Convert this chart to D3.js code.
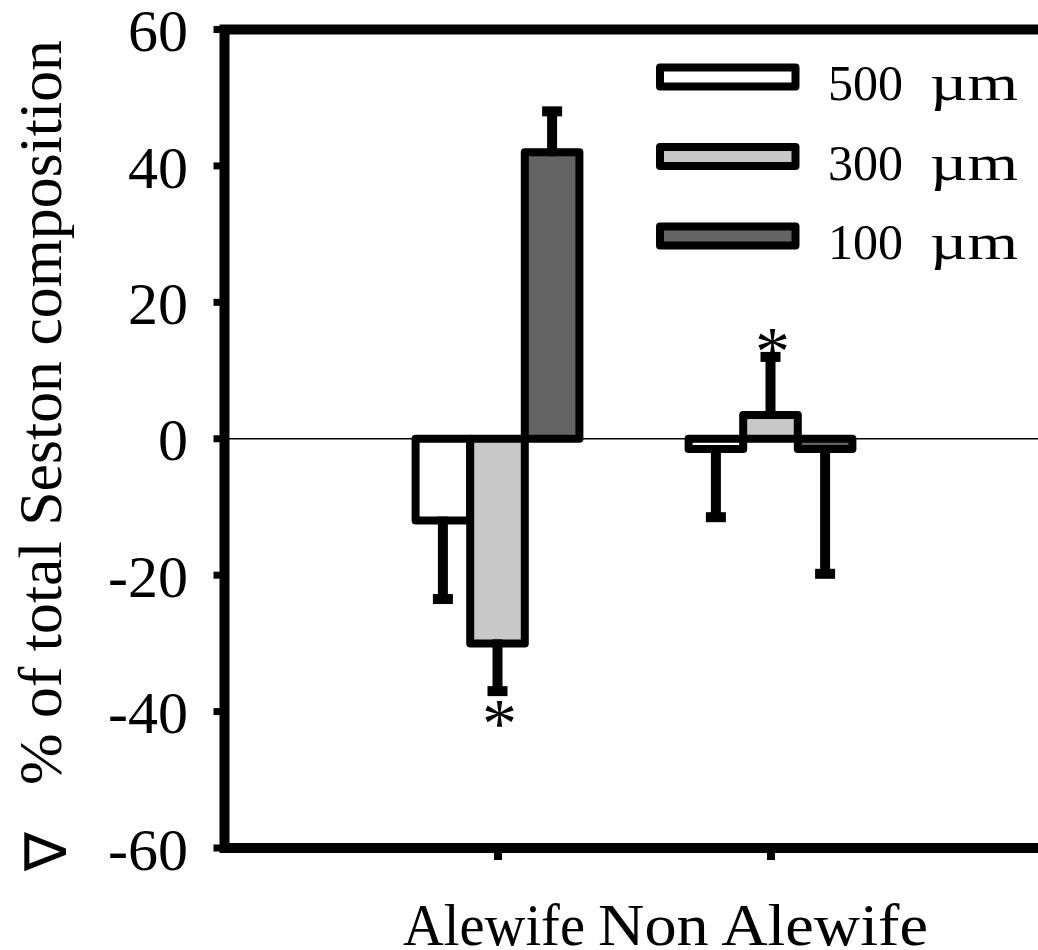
<!DOCTYPE html>
<html>
<head>
<meta charset="utf-8">
<script src="https://cdn.jsdelivr.net/npm/d3@7"></script>
<style>
  body { margin: 0; background: #fff; }
  text { fill: #000; }
</style>
</head>
<body>
<div id="chart"></div>
<script>
// Data
const groups = ["Alewife", "Non Alewife"];
const sizes = ["500", "300", "100"];
const fills = ["#ffffff", "#c8c8c8", "#646464"];
const alewifeValues = [-12, -30, 42];
const alewifeErrors = [11.5, 7, 6];
const nonAlewifeValues = [-1.5, 3.5, -1.5];
const nonAlewifeErrors = [10, 8.5, 18.3];
const significant = [[false, true, false], [false, true, false]];
const yTicks = [60, 40, 20, 0, -20, -40, -60];

const values = [alewifeValues, nonAlewifeValues];
const errors = [alewifeErrors, nonAlewifeErrors];

const FONT = "'Liberation Serif', 'Times New Roman', Times, serif";
const W = 1038, H = 950;
const frame = {left: 224.5, top: 29.5, right: 1043.5, bottom: 848};

const svg = d3.select("#chart").append("svg")
    .attr("width", W)
    .attr("height", H)
    .attr("font-family", FONT);

// Scales: group positions 1 and 2 on a 0..3 axis
const x = d3.scaleLinear().domain([0, 3]).range([frame.left, frame.right]);
const y = d3.scaleLinear().domain([-60, 60]).range([frame.bottom, frame.top]);
const barW = 0.2;

// flatten into bar records
const bars = [];
groups.forEach((g, gi) => {
  sizes.forEach((s, si) => {
    bars.push({group: g, size: s, fill: fills[si], value: values[gi][si], err: errors[gi][si],
               star: significant[gi][si], cx: gi + 1 + (si - 1) * barW});
  });
});

// zero line
svg.append("line")
    .attr("x1", frame.left).attr("x2", W)
    .attr("y1", y(0)).attr("y2", y(0))
    .attr("stroke", "#000").attr("stroke-width", 1.5);

// bars
svg.selectAll("rect.bar").data(bars).enter().append("rect")
    .attr("class", "bar")
    .attr("x", d => x(d.cx - barW / 2))
    .attr("width", x(barW) - x(0))
    .attr("y", d => y(Math.max(0, d.value)))
    .attr("height", d => Math.abs(y(d.value) - y(0)))
    .attr("fill", d => d.fill)
    .attr("stroke", "#000")
    .attr("stroke-width", 8)
    .attr("stroke-linejoin", "round");

// error bars (one-sided, away from zero)
const errEnd = d => d.value + Math.sign(d.value) * d.err;
svg.selectAll("line.stem").data(bars).enter().append("line")
    .attr("class", "stem")
    .attr("x1", d => x(d.cx)).attr("x2", d => x(d.cx))
    .attr("y1", d => y(d.value) + Math.sign(d.value) * 4)
    .attr("y2", d => y(errEnd(d)))
    .attr("stroke", "#000").attr("stroke-width", 10);
svg.selectAll("rect.cap").data(bars).enter().append("rect")
    .attr("class", "cap")
    .attr("x", d => x(d.cx) - 10)
    .attr("y", d => y(errEnd(d)) - 5)
    .attr("width", 20).attr("height", 10)
    .attr("fill", "#000");

// significance stars
svg.selectAll("text.star").data(bars.filter(d => d.star)).enter().append("text")
    .attr("class", "star")
    .attr("x", d => x(d.cx) + 2)
    .attr("y", d => y(errEnd(d)) + (d.value < 0 ? 19 : -19) + 37)
    .attr("text-anchor", "middle")
    .attr("font-size", 70)
    .attr("font-family", FONT)
    .text("*");

// y axis ticks + labels
svg.selectAll("line.ytick").data(yTicks).enter().append("line")
    .attr("x1", frame.left - 11).attr("x2", frame.left)
    .attr("y1", d => y(d)).attr("y2", d => y(d))
    .attr("stroke", "#000").attr("stroke-width", 7);
svg.selectAll("text.ylab").data(yTicks).enter().append("text")
    .attr("x", 188)
    .attr("y", d => y(d))
    .attr("dy", "0.36em")
    .attr("text-anchor", "end")
    .attr("font-size", 60)
    .attr("font-family", FONT)
    .text(d => d);

// x axis
const labelWidths = [182, 330];
const labelShift = [-4, -8];
const xAxis = svg.append("g")
    .attr("transform", `translate(0,${frame.bottom})`)
    .call(d3.axisBottom(x).tickValues([1, 2]).tickSize(12).tickFormat((d, i) => groups[i]));
xAxis.select(".domain").remove();
xAxis.attr("font-family", FONT);
xAxis.selectAll(".tick line").attr("stroke", "#000").attr("stroke-width", 8);
xAxis.selectAll(".tick text")
    .attr("y", 97).attr("dy", 0)
    .attr("x", (d, i) => labelShift[i])
    .attr("font-size", 60)
    .attr("font-family", FONT)
    .attr("textLength", (d, i) => labelWidths[i])
    .attr("lengthAdjust", "spacingAndGlyphs");

// frame
svg.append("rect")
    .attr("x", frame.left).attr("y", frame.top)
    .attr("width", frame.right - frame.left)
    .attr("height", frame.bottom - frame.top)
    .attr("fill", "none")
    .attr("stroke", "#000")
    .attr("stroke-width", 10);

// y axis title
svg.append("text")
    .attr("transform", `translate(61,${(40 + 785) / 2}) rotate(-90)`)
    .attr("text-anchor", "middle")
    .attr("font-size", 62)
    .attr("font-family", FONT)
    .attr("textLength", 745)
    .attr("lengthAdjust", "spacingAndGlyphs")
    .text("% of total Seston composition");
svg.append("text")
    .attr("transform", `translate(46,851) rotate(-90)`)
    .attr("text-anchor", "middle")
    .attr("dominant-baseline", "central")
    .attr("font-size", 58)
    .attr("font-family", FONT)
    .text("\u2207");

// legend
const legend = svg.append("g");
const legY = [77, 156.5, 236];
sizes.forEach((s, i) => {
  legend.append("rect")
      .attr("x", 660).attr("y", legY[i] - 9.5)
      .attr("width", 135.5).attr("height", 19)
      .attr("fill", fills[i])
      .attr("stroke", "#000").attr("stroke-width", 8)
      .attr("stroke-linejoin", "round");
  legend.append("text")
      .attr("x", 828).attr("y", legY[i] + 23)
      .attr("font-size", 50)
      .attr("font-family", FONT)
      .text(s);
  legend.append("text")
      .attr("x", 930).attr("y", legY[i] + 23)
      .attr("font-size", 50)
      .attr("font-family", FONT)
      .attr("textLength", 88)
      .attr("lengthAdjust", "spacingAndGlyphs")
      .text("\u00b5m");
});
</script>
</body>
</html>
